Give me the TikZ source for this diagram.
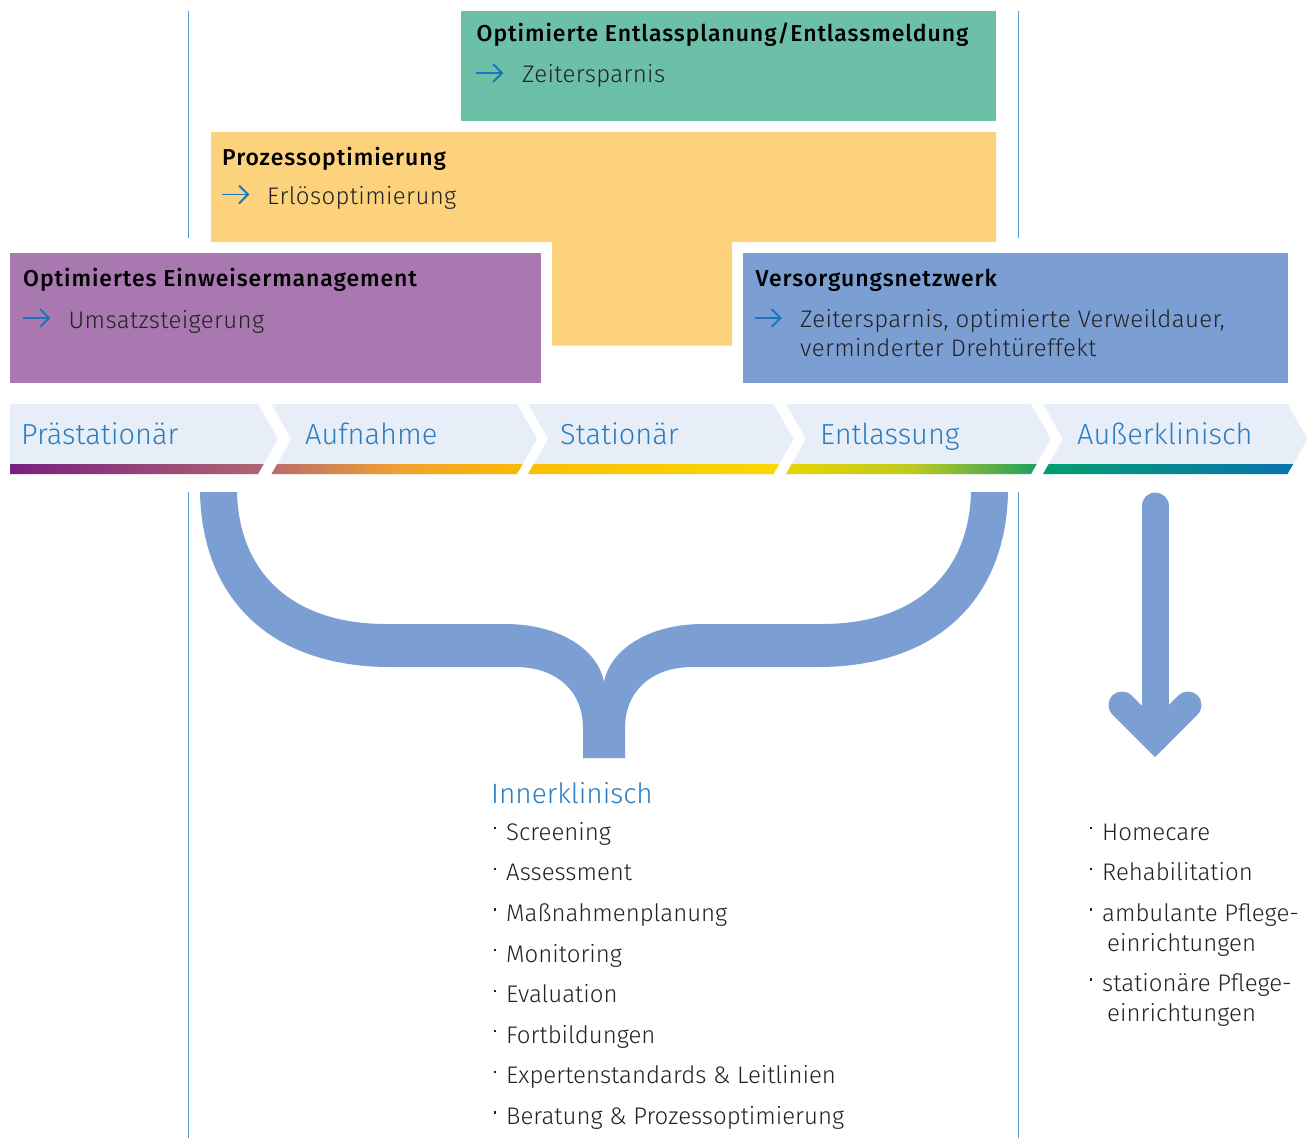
\documentclass[tikz,border=0pt]{standalone}
\usepackage{fontspec}
\setmainfont{Fira Sans Light}[BoldFont={Fira Sans Medium}]
\newfontfamily\titlefont{Fira Sans Medium}[LetterSpace=4]
\newfontfamily\bodyfont{Fira Sans Light}[LetterSpace=1.5]
\definecolor{vline}{HTML}{5B9BD5}
\definecolor{gbox}{HTML}{6CC0A8}
\definecolor{ybox}{HTML}{FDD27D}
\definecolor{pbox}{HTML}{A978B0}
\definecolor{bbox}{HTML}{7B9FD3}
\definecolor{chev}{HTML}{E8EEF8}
\definecolor{arrblue}{HTML}{1C75BC}
\definecolor{chevtxt}{HTML}{2A7DC0}
\definecolor{bodytxt}{HTML}{222222}
\newcommand\bul{\makebox[12pt][l]{\raisebox{11pt}{\rule{2.2pt}{2.2pt}}}}
\newcommand\boxarr[2]{%
  \draw[smallarr] (#1,#2) -- ++(26,0);
  \draw[smallarr] (#1+17,#2-9) -- (#1+26,#2) -- (#1+17,#2+9);}
\tikzset{
  vl/.style={draw=vline, line width=1.1pt},
  smallarr/.style={draw=arrblue, line width=1.8pt, line join=miter},
  title/.style={anchor=base west, inner sep=0pt, font=\titlefont\fontsize{23}{27}\selectfont, text=black},
  body/.style={anchor=base west, inner sep=0pt, font=\bodyfont\fontsize{24}{28}\selectfont, text=bodytxt},
  chevlbl/.style={anchor=base west, inner sep=0pt, font=\fontsize{29}{35}\selectfont, text=chevtxt},
  item/.style={anchor=base west, inner sep=0pt, font=\fontsize{24}{29}\selectfont, text=bodytxt},
}
\begin{document}
\begin{tikzpicture}[x=1pt,y=-1pt]
\useasboundingbox (0,0) rectangle (1316,1138);
\fill[white] (0,0) rectangle (1316,1138);
% vertical guide lines
\draw[vl] (188.5,11) -- (188.5,238);
\draw[vl] (188.5,492) -- (188.5,1138);
\draw[vl] (1018.8,11) -- (1018.8,238);
\draw[vl] (1018.8,492) -- (1018.8,1138);
% boxes
\fill[gbox] (461,11) rectangle (996,121);
\fill[ybox] (211,132) -- (996,132) -- (996,242) -- (732,242) -- (732,345.5) -- (552,345.5) -- (552,242) -- (211,242) -- cycle;
\fill[pbox] (10,253) rectangle (541,383);
\fill[bbox] (743,253) rectangle (1288,383);
% box texts
\node[title] (gt) at (476.5,41.7) {Optimierte Entlassplanung/Entlassmeldung};
\node[body] (gb) at (522,82) {Zeitersparnis};
\boxarr{476}{73}
\node[title] (yt) at (222,165) {Prozessoptimierung};
\node[body] (yb) at (267,204) {Erlösoptimierung};
\boxarr{222}{194.5}
\node[title] (pt) at (23,286.7) {Optimiertes Einweisermanagement};
\node[body] (pb) at (68.5,328) {Umsatzsteigerung};
\boxarr{23}{318}
\node[title] (bt) at (755.5,286.7) {Versorgungsnetzwerk};
\node[body] (bb1) at (800,327.5) {Zeitersparnis, optimierte Verweildauer,};
\node[body] (bb2) at (800,356.5) {verminderter Drehtüreffekt};
\boxarr{754.5}{318}
% chevrons
\fill[chev] (10,404) -- (258,404) -- (278,439) -- (258,474) -- (10,474) -- cycle;
\foreach \L/\R in {271.5/517, 528/773.5, 786/1031, 1043/1287.5}{
  \fill[chev] (\L,404) -- (\R,404) -- (\R+20,439) -- (\R,474) -- (\L,474) -- (\L+20,439) -- cycle;
}
\shade[left color={rgb,255:red,120;green,32;blue,127}, right color={rgb,255:red,178;green,100;blue,114}]
  (10,464) -- (263.7,464) -- (258,474) -- (10,474) -- cycle;
\shade[left color={rgb,255:red,184;green,108;blue,106}, right color={rgb,255:red,250;green,186;blue,0}, middle color={rgb,255:red,240;green,160;blue,48}]
  (277.2,464) -- (522.7,464) -- (517,474) -- (271.5,474) -- cycle;
\shade[left color={rgb,255:red,251;green,190;blue,0}, right color={rgb,255:red,250;green,216;blue,0}]
  (533.7,464) -- (779.2,464) -- (773.5,474) -- (528,474) -- cycle;
\shade[left color={rgb,255:red,232;green,211;blue,0}, right color={rgb,255:red,32;green,160;blue,96}, middle color={rgb,255:red,190;green,202;blue,30}]
  (791.7,464) -- (1036.7,464) -- (1031,474) -- (786,474) -- cycle;
\shade[left color={rgb,255:red,0;green,160;blue,112}, right color={rgb,255:red,10;green,114;blue,176}]
  (1048.7,464) -- (1293.2,464) -- (1287.5,474) -- (1043,474) -- cycle;
\node[chevlbl] (c1) at (21,444.3) {Prästationär};
\node[chevlbl] (c2) at (305,444.3) {Aufnahme};
\node[chevlbl] (c3) at (560,444.3) {Stationär};
\node[chevlbl] (c4) at (820,444.3) {Entlassung};
\node[chevlbl] (c5) at (1077,444.3) {Außerklinisch};
% brace
\fill[bbox] (200,492) .. controls (202,600) and (272,667) .. (390,667)
  -- (516,667) .. controls (555,667) and (583,690) .. (583,728)
  -- (583,758) -- (625,758) -- (625,728)
  .. controls (625,690) and (653,667) .. (692,667)
  -- (818,667) .. controls (936,667) and (1006,600) .. (1008,492)
  -- (971,492) .. controls (969,574) and (914.4,624) .. (822,624)
  -- (703,624) .. controls (648,624) and (610,650) .. (604,682)
  .. controls (598,650) and (560,624) .. (505,624)
  -- (386,624) .. controls (293.6,624) and (239,574) .. (237,492) -- cycle;
% down arrow
\draw[bbox, line width=27pt, line cap=round] (1155,506) -- (1155,738);
\draw[bbox, line width=27pt, line cap=round, line join=miter] (1122,705) -- (1155,738) -- (1188,705);
% lists
\node[chevlbl, font=\fontsize{28}{34}\selectfont] (inn) at (491,803.3) {Innerklinisch};
\foreach \t [count=\i from 0] in {Screening, Assessment, Maßnahmenplanung, Monitoring, Evaluation, Fortbildungen, Expertenstandards \& Leitlinien, Beratung \& Prozessoptimierung}{
  \node[item] (li\i) at (494,840.3+40.6*\i) {\bul\t};
}
\node[item] (r1) at (1090,840.3) {\bul Homecare};
\node[item] (r2) at (1090,880.9) {\bul Rehabilitation};
\node[item] (r3) at (1090,921.5) {\bul ambulante Pflege-};
\node[item] (r3b) at (1107,951.5) {einrichtungen};
\node[item] (r4) at (1090,991.5) {\bul stationäre Pflege-};
\node[item] (r4b) at (1107,1021.5) {einrichtungen};
\end{tikzpicture}
\end{document}
